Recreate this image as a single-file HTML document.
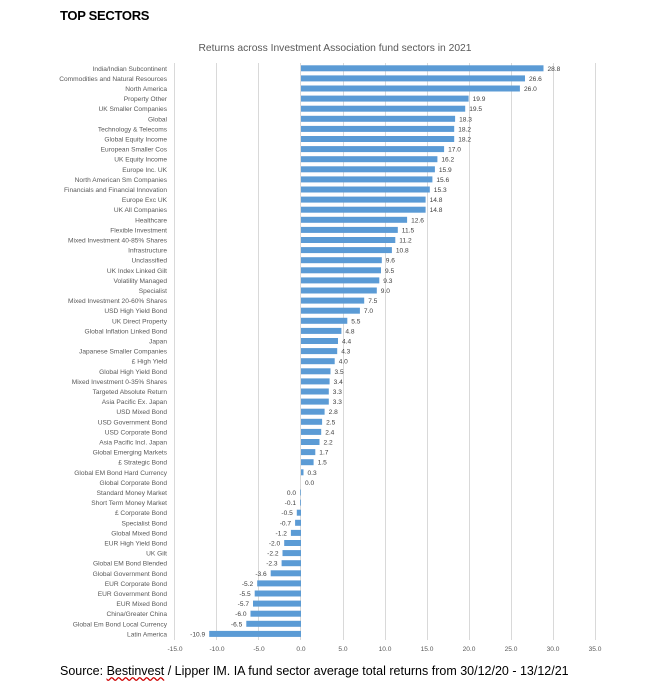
<!DOCTYPE html>
<html><head><meta charset="utf-8"><style>
body{margin:0;background:#fff;width:671px;height:690px;overflow:hidden;position:relative;font-family:"Liberation Sans",sans-serif}
#h{position:absolute;left:60px;top:8px;font-weight:bold;font-size:13px;color:#000;letter-spacing:-0.3px}
#s{position:absolute;left:60px;top:664px;font-size:12.5px;color:#000}
svg{position:absolute;left:0;top:0}
.l{font-size:6.6px;fill:#595959;text-anchor:end}
.v{font-size:6.6px;fill:#404040}
.n{font-size:6.6px;fill:#404040;text-anchor:end}
.t{font-size:6.6px;fill:#595959;text-anchor:middle}
rect{fill:#5b9bd5}
</style></head><body>
<div id="h">TOP SECTORS</div>
<svg width="671" height="690">
<text x="335" y="51" style="font-size:10.3px;fill:#595959;text-anchor:middle">Returns across Investment Association fund sectors in 2021</text>
<g stroke="#d9d9d9" stroke-width="1">
<line x1="174.5" y1="63" x2="174.5" y2="640"/><line x1="216.5" y1="63" x2="216.5" y2="640"/><line x1="258.5" y1="63" x2="258.5" y2="640"/><line x1="300.5" y1="63" x2="300.5" y2="640"/><line x1="343.5" y1="63" x2="343.5" y2="640"/><line x1="385.5" y1="63" x2="385.5" y2="640"/><line x1="427.5" y1="63" x2="427.5" y2="640"/><line x1="469.5" y1="63" x2="469.5" y2="640"/><line x1="511.5" y1="63" x2="511.5" y2="640"/><line x1="553.5" y1="63" x2="553.5" y2="640"/><line x1="595.5" y1="63" x2="595.5" y2="640"/>
</g>
<g>
<text class="t" x="175" y="651">-15.0</text><text class="t" x="217" y="651">-10.0</text><text class="t" x="259" y="651">-5.0</text><text class="t" x="301" y="651">0.0</text><text class="t" x="343" y="651">5.0</text><text class="t" x="385" y="651">10.0</text><text class="t" x="427" y="651">15.0</text><text class="t" x="469" y="651">20.0</text><text class="t" x="511" y="651">25.0</text><text class="t" x="553" y="651">30.0</text><text class="t" x="595" y="651">35.0</text>
</g>
<g transform="translate(0,68.3)"><text class="l" x="167" y="2.5">India/Indian Subcontinent</text><rect x="301" y="-3" width="242.5" height="6"/><text class="v" x="547.5" y="2.5">28.8</text></g>
<g transform="translate(0,78.4)"><text class="l" x="167" y="2.5">Commodities and Natural Resources</text><rect x="301" y="-3" width="224" height="6"/><text class="v" x="529" y="2.5">26.6</text></g>
<g transform="translate(0,88.5)"><text class="l" x="167" y="2.5">North America</text><rect x="301" y="-3" width="218.9" height="6"/><text class="v" x="524" y="2.5">26.0</text></g>
<g transform="translate(0,98.6)"><text class="l" x="167" y="2.5">Property Other</text><rect x="301" y="-3" width="167.6" height="6"/><text class="v" x="472.6" y="2.5">19.9</text></g>
<g transform="translate(0,108.7)"><text class="l" x="167" y="2.5">UK Smaller Companies</text><rect x="301" y="-3" width="164.2" height="6"/><text class="v" x="469.2" y="2.5">19.5</text></g>
<g transform="translate(0,118.8)"><text class="l" x="167" y="2.5">Global</text><rect x="301" y="-3" width="154.1" height="6"/><text class="v" x="459.1" y="2.5">18.3</text></g>
<g transform="translate(0,128.9)"><text class="l" x="167" y="2.5">Technology &amp; Telecoms</text><rect x="301" y="-3" width="153.2" height="6"/><text class="v" x="458.2" y="2.5">18.2</text></g>
<g transform="translate(0,139)"><text class="l" x="167" y="2.5">Global Equity Income</text><rect x="301" y="-3" width="153.2" height="6"/><text class="v" x="458.2" y="2.5">18.2</text></g>
<g transform="translate(0,149.1)"><text class="l" x="167" y="2.5">European Smaller Cos</text><rect x="301" y="-3" width="143.1" height="6"/><text class="v" x="448.1" y="2.5">17.0</text></g>
<g transform="translate(0,159.2)"><text class="l" x="167" y="2.5">UK Equity Income</text><rect x="301" y="-3" width="136.4" height="6"/><text class="v" x="441.4" y="2.5">16.2</text></g>
<g transform="translate(0,169.3)"><text class="l" x="167" y="2.5">Europe Inc. UK</text><rect x="301" y="-3" width="133.9" height="6"/><text class="v" x="438.9" y="2.5">15.9</text></g>
<g transform="translate(0,179.4)"><text class="l" x="167" y="2.5">North American Sm Companies</text><rect x="301" y="-3" width="131.4" height="6"/><text class="v" x="436.4" y="2.5">15.6</text></g>
<g transform="translate(0,189.5)"><text class="l" x="167" y="2.5">Financials and Financial Innovation</text><rect x="301" y="-3" width="128.8" height="6"/><text class="v" x="433.8" y="2.5">15.3</text></g>
<g transform="translate(0,199.6)"><text class="l" x="167" y="2.5">Europe Exc UK</text><rect x="301" y="-3" width="124.6" height="6"/><text class="v" x="429.6" y="2.5">14.8</text></g>
<g transform="translate(0,209.7)"><text class="l" x="167" y="2.5">UK All Companies</text><rect x="301" y="-3" width="124.6" height="6"/><text class="v" x="429.6" y="2.5">14.8</text></g>
<g transform="translate(0,219.8)"><text class="l" x="167" y="2.5">Healthcare</text><rect x="301" y="-3" width="106.1" height="6"/><text class="v" x="411.1" y="2.5">12.6</text></g>
<g transform="translate(0,229.9)"><text class="l" x="167" y="2.5">Flexible Investment</text><rect x="301" y="-3" width="96.8" height="6"/><text class="v" x="401.8" y="2.5">11.5</text></g>
<g transform="translate(0,240)"><text class="l" x="167" y="2.5">Mixed Investment 40-85% Shares</text><rect x="301" y="-3" width="94.3" height="6"/><text class="v" x="399.3" y="2.5">11.2</text></g>
<g transform="translate(0,250.1)"><text class="l" x="167" y="2.5">Infrastructure</text><rect x="301" y="-3" width="90.9" height="6"/><text class="v" x="395.9" y="2.5">10.8</text></g>
<g transform="translate(0,260.2)"><text class="l" x="167" y="2.5">Unclassified</text><rect x="301" y="-3" width="80.8" height="6"/><text class="v" x="385.8" y="2.5">9.6</text></g>
<g transform="translate(0,270.3)"><text class="l" x="167" y="2.5">UK Index Linked Gilt</text><rect x="301" y="-3" width="80" height="6"/><text class="v" x="385" y="2.5">9.5</text></g>
<g transform="translate(0,280.4)"><text class="l" x="167" y="2.5">Volatility Managed</text><rect x="301" y="-3" width="78.3" height="6"/><text class="v" x="383.3" y="2.5">9.3</text></g>
<g transform="translate(0,290.5)"><text class="l" x="167" y="2.5">Specialist</text><rect x="301" y="-3" width="75.8" height="6"/><text class="v" x="380.8" y="2.5">9.0</text></g>
<g transform="translate(0,300.6)"><text class="l" x="167" y="2.5">Mixed Investment 20-60% Shares</text><rect x="301" y="-3" width="63.2" height="6"/><text class="v" x="368.2" y="2.5">7.5</text></g>
<g transform="translate(0,310.7)"><text class="l" x="167" y="2.5">USD High Yield Bond</text><rect x="301" y="-3" width="58.9" height="6"/><text class="v" x="363.9" y="2.5">7.0</text></g>
<g transform="translate(0,320.8)"><text class="l" x="167" y="2.5">UK Direct Property</text><rect x="301" y="-3" width="46.3" height="6"/><text class="v" x="351.3" y="2.5">5.5</text></g>
<g transform="translate(0,330.9)"><text class="l" x="167" y="2.5">Global Inflation Linked Bond</text><rect x="301" y="-3" width="40.4" height="6"/><text class="v" x="345.4" y="2.5">4.8</text></g>
<g transform="translate(0,341)"><text class="l" x="167" y="2.5">Japan</text><rect x="301" y="-3" width="37" height="6"/><text class="v" x="342" y="2.5">4.4</text></g>
<g transform="translate(0,351.1)"><text class="l" x="167" y="2.5">Japanese Smaller Companies</text><rect x="301" y="-3" width="36.2" height="6"/><text class="v" x="341.2" y="2.5">4.3</text></g>
<g transform="translate(0,361.2)"><text class="l" x="167" y="2.5">£ High Yield</text><rect x="301" y="-3" width="33.7" height="6"/><text class="v" x="338.7" y="2.5">4.0</text></g>
<g transform="translate(0,371.3)"><text class="l" x="167" y="2.5">Global High Yield Bond</text><rect x="301" y="-3" width="29.5" height="6"/><text class="v" x="334.5" y="2.5">3.5</text></g>
<g transform="translate(0,381.4)"><text class="l" x="167" y="2.5">Mixed Investment 0-35% Shares</text><rect x="301" y="-3" width="28.6" height="6"/><text class="v" x="333.6" y="2.5">3.4</text></g>
<g transform="translate(0,391.5)"><text class="l" x="167" y="2.5">Targeted Absolute Return</text><rect x="301" y="-3" width="27.8" height="6"/><text class="v" x="332.8" y="2.5">3.3</text></g>
<g transform="translate(0,401.6)"><text class="l" x="167" y="2.5">Asia Pacific Ex. Japan</text><rect x="301" y="-3" width="27.8" height="6"/><text class="v" x="332.8" y="2.5">3.3</text></g>
<g transform="translate(0,411.7)"><text class="l" x="167" y="2.5">USD Mixed Bond</text><rect x="301" y="-3" width="23.6" height="6"/><text class="v" x="328.6" y="2.5">2.8</text></g>
<g transform="translate(0,421.8)"><text class="l" x="167" y="2.5">USD Government Bond</text><rect x="301" y="-3" width="21.1" height="6"/><text class="v" x="326.1" y="2.5">2.5</text></g>
<g transform="translate(0,431.9)"><text class="l" x="167" y="2.5">USD Corporate Bond</text><rect x="301" y="-3" width="20.2" height="6"/><text class="v" x="325.2" y="2.5">2.4</text></g>
<g transform="translate(0,442)"><text class="l" x="167" y="2.5">Asia Pacific Incl. Japan</text><rect x="301" y="-3" width="18.5" height="6"/><text class="v" x="323.5" y="2.5">2.2</text></g>
<g transform="translate(0,452.1)"><text class="l" x="167" y="2.5">Global Emerging Markets</text><rect x="301" y="-3" width="14.3" height="6"/><text class="v" x="319.3" y="2.5">1.7</text></g>
<g transform="translate(0,462.2)"><text class="l" x="167" y="2.5">£ Strategic Bond</text><rect x="301" y="-3" width="12.6" height="6"/><text class="v" x="317.6" y="2.5">1.5</text></g>
<g transform="translate(0,472.3)"><text class="l" x="167" y="2.5">Global EM Bond Hard Currency</text><rect x="301" y="-3" width="2.5" height="6"/><text class="v" x="307.5" y="2.5">0.3</text></g>
<g transform="translate(0,482.4)"><text class="l" x="167" y="2.5">Global Corporate Bond</text><text class="v" x="305" y="2.5">0.0</text></g>
<g transform="translate(0,492.5)"><text class="l" x="167" y="2.5">Standard Money Market</text><rect x="300.3" y="-3" width="0.7" height="6"/><text class="n" x="296" y="2.5">0.0</text></g>
<g transform="translate(0,502.6)"><text class="l" x="167" y="2.5">Short Term Money Market</text><rect x="300.2" y="-3" width="0.8" height="6"/><text class="n" x="296" y="2.5">-0.1</text></g>
<g transform="translate(0,512.7)"><text class="l" x="167" y="2.5">£ Corporate Bond</text><rect x="296.8" y="-3" width="4.2" height="6"/><text class="n" x="292.8" y="2.5">-0.5</text></g>
<g transform="translate(0,522.8)"><text class="l" x="167" y="2.5">Specialist Bond</text><rect x="295.1" y="-3" width="5.9" height="6"/><text class="n" x="291.1" y="2.5">-0.7</text></g>
<g transform="translate(0,532.9)"><text class="l" x="167" y="2.5">Global Mixed Bond</text><rect x="290.9" y="-3" width="10.1" height="6"/><text class="n" x="286.9" y="2.5">-1.2</text></g>
<g transform="translate(0,543)"><text class="l" x="167" y="2.5">EUR High Yield Bond</text><rect x="284.2" y="-3" width="16.8" height="6"/><text class="n" x="280.2" y="2.5">-2.0</text></g>
<g transform="translate(0,553.1)"><text class="l" x="167" y="2.5">UK Gilt</text><rect x="282.5" y="-3" width="18.5" height="6"/><text class="n" x="278.5" y="2.5">-2.2</text></g>
<g transform="translate(0,563.2)"><text class="l" x="167" y="2.5">Global EM Bond Blended</text><rect x="281.6" y="-3" width="19.4" height="6"/><text class="n" x="277.6" y="2.5">-2.3</text></g>
<g transform="translate(0,573.3)"><text class="l" x="167" y="2.5">Global Government Bond</text><rect x="270.7" y="-3" width="30.3" height="6"/><text class="n" x="266.7" y="2.5">-3.6</text></g>
<g transform="translate(0,583.4)"><text class="l" x="167" y="2.5">EUR Corporate Bond</text><rect x="257.2" y="-3" width="43.8" height="6"/><text class="n" x="253.2" y="2.5">-5.2</text></g>
<g transform="translate(0,593.5)"><text class="l" x="167" y="2.5">EUR Government Bond</text><rect x="254.7" y="-3" width="46.3" height="6"/><text class="n" x="250.7" y="2.5">-5.5</text></g>
<g transform="translate(0,603.6)"><text class="l" x="167" y="2.5">EUR Mixed Bond</text><rect x="253" y="-3" width="48" height="6"/><text class="n" x="249" y="2.5">-5.7</text></g>
<g transform="translate(0,613.7)"><text class="l" x="167" y="2.5">China/Greater China</text><rect x="250.5" y="-3" width="50.5" height="6"/><text class="n" x="246.5" y="2.5">-6.0</text></g>
<g transform="translate(0,623.8)"><text class="l" x="167" y="2.5">Global Em Bond Local Currency</text><rect x="246.3" y="-3" width="54.7" height="6"/><text class="n" x="242.3" y="2.5">-6.5</text></g>
<g transform="translate(0,633.9)"><text class="l" x="167" y="2.5">Latin America</text><rect x="209.2" y="-3" width="91.8" height="6"/><text class="n" x="205.2" y="2.5">-10.9</text></g>
</svg>
<div id="s">Source: <span style="text-decoration:underline wavy #c00">Bestinvest</span> / Lipper IM. IA fund sector average total returns from 30/12/20 - 13/12/21</div>
</body></html>
